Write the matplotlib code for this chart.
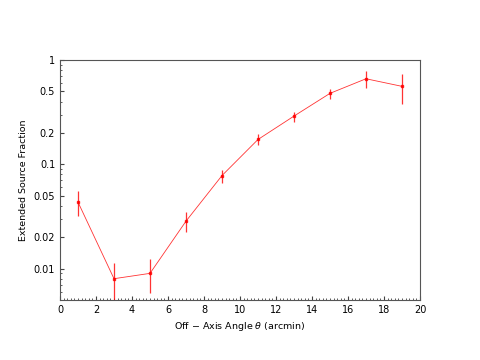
import numpy as np
import matplotlib
matplotlib.use('Agg')
import matplotlib.pyplot as plt
from matplotlib.ticker import FixedLocator, FixedFormatter, LogLocator, AutoMinorLocator, NullFormatter

# off-axis angle bins (arcmin) and extended source fraction
theta = [1, 3, 5, 7, 9, 11, 13, 15, 17, 19]
frac = [0.0434, 0.0080, 0.0090, 0.0285, 0.078, 0.173, 0.290, 0.479, 0.661, 0.559]
err_hi = [0.055, 0.0112, 0.0124, 0.0348, 0.089, 0.194, 0.316, 0.526, 0.789, 0.733]
err_lo = [0.0316, 0.004, 0.0058, 0.0223, 0.066, 0.152, 0.257, 0.419, 0.535, 0.377]

ytick_vals = [0.01, 0.02, 0.05, 0.1, 0.2, 0.5, 1]
ytick_labels = ['0.01', '0.02', '0.05', '0.1', '0.2', '0.5', '1']

frac = np.array(frac)
yerr = [frac - np.array(err_lo), np.array(err_hi) - frac]

fig = plt.figure(figsize=(4.8, 3.6), dpi=100)
ax = fig.add_axes([0.125, 0.1667, 0.75, 0.6666])

ax.errorbar(theta, frac, yerr=yerr, color='red', lw=0.6, alpha=0.8,
            marker='s', ms=2, mec='red', mfc='red', elinewidth=0.9, capsize=0)

ax.set_yscale('log')
ax.set_xlim(0, 20)
ax.set_ylim(0.005, 1)
ax.yaxis.set_major_locator(FixedLocator(ytick_vals))
ax.yaxis.set_major_formatter(FixedFormatter(ytick_labels))
ax.yaxis.set_minor_locator(LogLocator(base=10, subs=np.arange(1, 10), numticks=20))
ax.yaxis.set_minor_formatter(NullFormatter())
ax.set_xticks(np.arange(0, 21, 2))
ax.xaxis.set_minor_locator(AutoMinorLocator(10))

ax.tick_params(which='both', direction='in', labelsize=7, color='#444444')
ax.tick_params(which='major', length=3)
ax.tick_params(which='minor', length=1.5)
for s in ax.spines.values():
    s.set_color('#555555')
    s.set_linewidth(0.8)

ax.set_xlabel(r'Off $-$ Axis Angle $\theta$ (arcmin)', fontsize=6.8)
ax.set_ylabel('Extended Source Fraction', fontsize=6.8)

fig.savefig('out.png', dpi=100)
